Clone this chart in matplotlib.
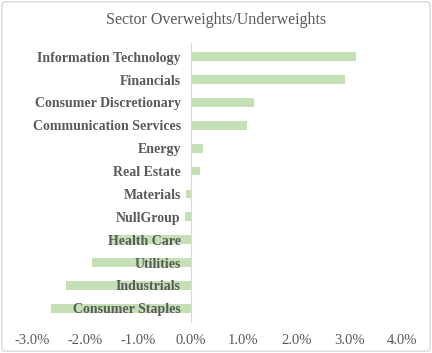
import matplotlib
matplotlib.use('Agg')
import matplotlib.pyplot as plt
from matplotlib.patches import FancyBboxPatch
from matplotlib.ticker import FuncFormatter

sectors = ['Information Technology', 'Financials', 'Consumer Discretionary',
           'Communication Services', 'Energy', 'Real Estate', 'Materials',
           'NullGroup', 'Health Care', 'Utilities', 'Industrials', 'Consumer Staples']
weights = [3.13, 2.92, 1.19, 1.06, 0.24, 0.18, -0.08, -0.11, -1.51, -1.87, -2.36, -2.64]
x_ticks = [-3, -2, -1, 0, 1, 2, 3, 4]

TEXT = '#595959'
BAR = '#c5e0b4'

fig = plt.figure(figsize=(4.32, 3.53), dpi=100)
ax = fig.add_axes([0.074, 0.088, 0.857, 0.79])

pos = list(range(len(sectors)))[::-1]
ax.barh(pos, weights, height=0.38, color=BAR, zorder=1)

# labels sit on the zero line like the spreadsheet chart
ax.spines['left'].set_position(('data', 0))
ax.spines['left'].set_color('#d9d9d9')
for s in ['top', 'right', 'bottom']:
    ax.spines[s].set_visible(False)

ax.set_xlim(-3, 4)
ax.set_ylim(-0.6, len(sectors) - 0.4)
ax.set_xticks(x_ticks)
ax.xaxis.set_major_formatter(FuncFormatter(lambda v, p: f'{v:.1f}%'))
ax.set_yticks(pos)
ax.set_yticklabels(sectors)
ax.tick_params(axis='y', length=0, pad=7)
ax.tick_params(axis='x', length=0, pad=9)
for lbl in ax.get_yticklabels():
    lbl.set_fontfamily('Liberation Serif')
    lbl.set_fontweight('bold')
    lbl.set_fontsize(10)
    lbl.set_color(TEXT)
for lbl in ax.get_xticklabels():
    lbl.set_fontfamily('Liberation Serif')
    lbl.set_fontsize(10.5)
    lbl.set_color(TEXT)

fig.text(0.5, 0.942, 'Sector Overweights/Underweights', ha='center', va='center',
         fontfamily='Liberation Serif', fontsize=11.5, color=TEXT)

# outer chart border
fig.patches.append(FancyBboxPatch((0.004, 0.005), 0.992, 0.99, boxstyle='round,pad=0,rounding_size=0.01',
                                  transform=fig.transFigure, fill=False, edgecolor='#d9d9d9', lw=1))

fig.savefig('out.png', dpi=100)
